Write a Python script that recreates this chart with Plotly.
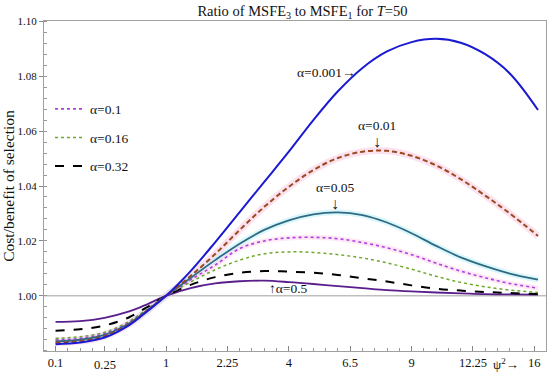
import plotly.graph_objects as go

# psi (x axis is linear in psi; tick labels show psi^2)
psi = [0.1, 0.3, 0.5, 0.7, 0.85, 1.0, 1.2, 1.4, 1.6, 1.8, 2.0, 2.2, 2.4, 2.6, 2.8, 3.0, 3.2, 3.4, 3.6, 3.8, 4.03]

a0001 = [0.9824, 0.9830, 0.9848, 0.9893, 0.9945, 1.0000, 1.0090, 1.0195, 1.0305, 1.0415, 1.0525,
         1.0640, 1.0745, 1.0830, 1.0890, 1.0924, 1.0936, 1.0922, 1.0880, 1.0810, 1.0677]
a001 = [0.9829, 0.9835, 0.9853, 0.9897, 0.9947, 1.0000, 1.0072, 1.0152, 1.0240, 1.0324, 1.0397,
        1.0458, 1.0502, 1.0525, 1.0528, 1.0510, 1.0475, 1.0425, 1.0365, 1.0300, 1.0218]
a005 = [0.9834, 0.9840, 0.9858, 0.9900, 0.9948, 1.0000, 1.0065, 1.0130, 1.0190, 1.0240, 1.0275,
        1.0297, 1.0304, 1.0294, 1.0267, 1.0228, 1.0182, 1.0140, 1.0108, 1.0081, 1.0059]
a01 = [0.9839, 0.9845, 0.9862, 0.9903, 0.9950, 1.0000, 1.0058, 1.0112, 1.0172, 1.0200, 1.0211,
       1.0213, 1.0208, 1.0194, 1.0175, 1.0150, 1.0119, 1.0090, 1.0066, 1.0045, 1.0028]
a016 = [0.9845, 0.9851, 0.9867, 0.9907, 0.9953, 1.0000, 1.0050, 1.0095, 1.0130, 1.0153, 1.0160,
        1.0158, 1.0150, 1.0138, 1.0120, 1.0097, 1.0071, 1.0049, 1.0033, 1.0021, 1.0012]
a032 = [0.9873, 0.9878, 0.9892, 0.9922, 0.9960, 1.0000, 1.0040, 1.0068, 1.0084, 1.0090, 1.0088,
        1.0084, 1.0076, 1.0064, 1.0052, 1.0038, 1.0026, 1.0019, 1.0014, 1.0010, 1.0007]
a05 = [0.9905, 0.9908, 0.9920, 0.9943, 0.9970, 1.0000, 1.0028, 1.0045, 1.0053, 1.0055, 1.0050,
       1.0043, 1.0035, 1.0028, 1.0021, 1.0016, 1.0012, 1.0009, 1.0006, 1.0005, 1.0004]

x_tickvals = [0.1, 0.5, 1.0, 1.5, 2.0, 2.5, 3.0, 3.5, 4.0]
x_ticktext = ["0.1", " ", "1", "2.25", "4", "6.5", "9", "12.25", "16"]
y_tickvals = [1.00, 1.02, 1.04, 1.06, 1.08, 1.10]

FONT = "Liberation Serif, Times New Roman, serif"

fig = go.Figure()

def halo(y, color, width):
    fig.add_trace(go.Scatter(x=psi, y=y, mode="lines", line=dict(color=color, width=width, shape="spline"),
                             showlegend=False, hoverinfo="skip"))

halo(a001, "rgba(250,200,225,0.55)", 7)
halo(a005, "rgba(190,240,245,0.55)", 6)
halo(a01, "rgba(250,205,235,0.45)", 5)

def curve(y, color, width, dash, name, legend, rank=1000):
    fig.add_trace(go.Scatter(x=psi, y=y, mode="lines", name=name, showlegend=legend,
                             legendgroup=name, legendrank=rank,
                             line=dict(color=color, width=width, dash=dash, shape="spline")))

curve(a05, "#5a1e8c", 1.8, "solid", "α=0.5", False)
curve(a032, "#000000", 2.0, "dash", "α=0.32", True, 3)
curve(a016, "#6fa82a", 1.5, "dot", "α=0.16", True, 2)
curve(a01, "#b23ee0", 1.6, "dot", "α=0.1", True, 1)
curve(a005, "#2f6a84", 1.8, "solid", "α=0.05", False)
curve(a001, "#9a4a1e", 2.0, "5px,3px", "α=0.01", False)
curve(a0001, "#1a1ad0", 2.0, "solid", "α=0.001", False)

fig.add_hline(y=1.0, line=dict(color="#a0a0a0", width=1), layer="below")

ann_font = dict(family=FONT, size=13.5, color="#111")
arrow_font = dict(family=FONT, size=16, color="#111")
anns = [
    dict(x=2.56, y=1.0812, text="α=0.001→", xanchor="right", yanchor="middle", font=ann_font),
    dict(x=2.72, y=1.0620, text="α=0.01", xanchor="center", yanchor="middle", font=ann_font),
    dict(x=2.72, y=1.0563, text="↓", xanchor="center", yanchor="middle", font=arrow_font),
    dict(x=2.38, y=1.0395, text="α=0.05", xanchor="center", yanchor="middle", font=ann_font),
    dict(x=2.38, y=1.0338, text="↓", xanchor="center", yanchor="middle", font=arrow_font),
    dict(x=1.82, y=1.0025, text="↑α=0.5", xanchor="left", yanchor="middle", font=ann_font),
]
for a in anns:
    fig.add_annotation(**a, xref="x", yref="y", showarrow=False)

# staggered tick label and axis variable label
fig.add_annotation(x=0.5, y=0, xref="x", yref="paper", yanchor="top", yshift=-5, text="0.25",
                   showarrow=False, font=dict(family=FONT, size=12.5, color="#111"))
fig.add_annotation(x=3.77, y=0, xref="x", yref="paper", yanchor="top", yshift=-3,
                   text="ψ<sup>2</sup>→", showarrow=False, font=dict(family=FONT, size=13, color="#111"))

fig.update_layout(
    width=550, height=373,
    margin=dict(l=44, r=4, t=21, b=22, autoexpand=False),
    paper_bgcolor="white", plot_bgcolor="white",
    font=dict(family=FONT, size=13, color="#111"),
    title=dict(text="Ratio of MSFE<sub>3</sub> to MSFE<sub>1</sub> for <i>T</i>=50",
               x=0.55, xanchor="center", y=0.985, yanchor="top", automargin=False,
               font=dict(family=FONT, size=14.5, color="#111")),
    legend=dict(x=0.012, y=0.78, xanchor="left", yanchor="top", bgcolor="rgba(0,0,0,0)",
                tracegroupgap=8, traceorder="grouped", font=dict(family=FONT, size=13.5)),
    showlegend=True,
)
fig.update_xaxes(range=[0.006, 4.095], tickmode="array", tickvals=x_tickvals, ticktext=x_ticktext,
                 automargin=False,
                 showgrid=False, zeroline=False, showline=True, linecolor="#a0a0a0", linewidth=1,
                 mirror=True, ticks="inside", ticklen=5, tickcolor="#888",
                 minor=dict(tickmode="linear", tick0=0, dtick=0.1, ticks="inside", ticklen=3, tickcolor="#999"),
                 tickfont=dict(family=FONT, size=12.5))
fig.update_yaxes(range=[0.9799, 1.1001], tickmode="array", tickvals=y_tickvals,
                 automargin=False,
                 tickformat=".2f", showgrid=False, zeroline=False, showline=True,
                 linecolor="#a0a0a0", linewidth=1, mirror=True, ticks="outside", ticklen=4, tickcolor="#888",
                 minor=dict(tickmode="linear", tick0=0.98, dtick=0.004, ticks="inside", ticklen=3, tickcolor="#999"),
                 tickfont=dict(family=FONT, size=11),
                 title=dict(text="Cost/benefit of selection", standoff=4, font=dict(family=FONT, size=15.5)))

fig.write_html("out.html", config={"displayModeBar": False},
               post_script="document.body.style.margin='0';")
